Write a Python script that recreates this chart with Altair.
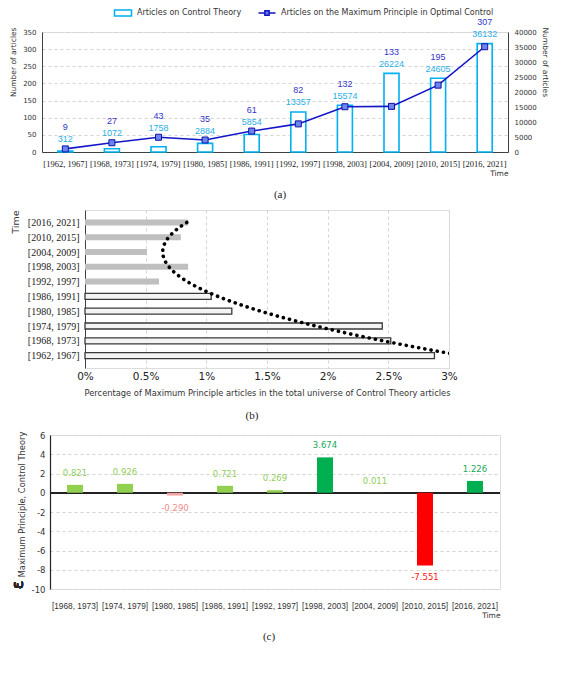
import json
import altair as alt
import pandas as pd

periods = ['[1962, 1967]', '[1968, 1973]', '[1974, 1979]', '[1980, 1985]', '[1986, 1991]',
           '[1992, 1997]', '[1998, 2003]', '[2004, 2009]', '[2010, 2015]', '[2016, 2021]']
mp_articles = [9, 27, 43, 35, 61, 82, 132, 133, 195, 307]
ct_articles = [312, 1072, 1758, 2884, 5854, 13357, 15574, 26224, 24605, 36132]
mp_share_pct = [2.88, 2.52, 2.45, 1.21, 1.04, 0.61, 0.85, 0.51, 0.79, 0.85]
periods_c = ['[1968, 1973]', '[1974, 1979]', '[1980, 1985]', '[1986, 1991]', '[1992, 1997]',
             '[1998, 2003]', '[2004, 2009]', '[2010, 2015]', '[2016, 2021]']
elasticity = [0.821, 0.926, -0.290, 0.721, 0.269, 3.674, 0.011, -7.551, 1.226]

CT_NAME = 'Articles on Control Theory'
MP_NAME = 'Articles on the Maximum Principle in Optimal Control'

SANS = 'DejaVu Sans'
SERIF = 'Liberation Serif'
LSANS = 'Liberation Sans'
AXC = '#404040'

df_a = pd.DataFrame({'period': periods, 'mp': mp_articles, 'ct': ct_articles,
                     'ct_name': CT_NAME, 'mp_name': MP_NAME})
df_b = pd.DataFrame({'period': periods, 'idx': list(range(len(periods))), 'pct': mp_share_pct})
df_c = pd.DataFrame({'period': periods_c, 'e': elasticity})


def caption(txt, off, dx):
    return alt.TitleParams(txt, orient='bottom', font=SERIF, fontSize=11, frame='group',
                           anchor='middle', fontWeight='normal', color='#222', offset=off, dx=dx)


# ---------------- panel (a) ----------------
xa = alt.X('period:N', sort=periods, title='Time',
           axis=alt.Axis(labelAngle=0, labelFont=SERIF, labelFontSize=8.5, labelColor='#222',
                         domainColor=AXC, ticks=False, labelPadding=7, labelOverlap=False,
                         titleAnchor='end', titleFont=SANS, titleFontSize=7.5,
                         titleFontWeight='normal', titleColor='#333', titlePadding=2),
           scale=alt.Scale(paddingInner=0.1, paddingOuter=0.05))

base_a = alt.Chart(df_a)

bars_a = base_a.mark_bar(size=15, fill='white', strokeWidth=1.6).encode(
    x=xa,
    y=alt.Y('ct:Q', title='Number of articles',
            scale=alt.Scale(domain=[0, 40000], nice=False),
            axis=alt.Axis(orient='right', values=list(range(0, 40001, 5000)), format='d',
                          grid=False, ticks=False, domainColor=AXC, labelFont=SANS,
                          labelFontSize=7, labelColor='#333', labelOverlap=False,
                          titleFont=SANS, titleFontSize=7.5, titleFontWeight='normal',
                          titleColor='#333', titleAngle=90, titleAlign='left', titleY=-5,
                          labelPadding=6, titlePadding=4)),
    stroke=alt.Stroke('ct_name:N', scale=alt.Scale(domain=[CT_NAME], range=['#00b0f0']),
                      legend=alt.Legend(title=None, orient='none', legendX=110, legendY=-24,
                                        symbolType='M-2.2,-0.8H2.2V0.8H-2.2Z', symbolSize=60,
                                        symbolFillColor='white', symbolStrokeWidth=1.5,
                                        labelLimit=400, labelOffset=9,
                                        labelFont=SANS, labelFontSize=8, labelColor='#333')),
)

axis_mp = alt.Axis(orient='left', values=list(range(0, 351, 50)), grid=True,
                   gridDash=[3, 3], gridColor='#d4d4d4', ticks=False, domainColor=AXC,
                   labelFont=SANS, labelFontSize=7, labelColor='#333', labelOverlap=False,
                   titleFont=SANS, titleFontSize=7.5, titleFontWeight='normal',
                   titleColor='#333', titleAngle=-90, titleAlign='right', titleY=-5,
                   labelPadding=6, titlePadding=5)
ya = alt.Y('mp:Q', title='Number of articles', scale=alt.Scale(domain=[0, 350], nice=False),
           axis=axis_mp)

line_a = base_a.mark_line(strokeWidth=1.6).encode(
    x=xa, y=ya,
    color=alt.Color('mp_name:N', scale=alt.Scale(domain=[MP_NAME], range=['#1515c8']),
                    legend=alt.Legend(title=None, orient='none', legendX=254, legendY=-24,
                                      symbolType='M-2.2,0H-0.55M0.55,0H2.2M-0.55,-0.55H0.55V0.55H-0.55Z',
                                      symbolSize=60, symbolStrokeWidth=1.5,
                                      symbolFillColor='#5f7fe8', labelLimit=400, labelOffset=9,
                                      labelFont=SANS, labelFontSize=8, labelColor='#333')),
)
pts_a = base_a.mark_point(shape='square', size=36, filled=True, fill='#6b86ec',
                          stroke='#1010a8', strokeWidth=1, opacity=1).encode(x=xa, y=ya)

top_calc = base_a.transform_calculate(top='max(datum.mp, datum.ct * 350 / 40000)')
ytop = alt.Y('top:Q', scale=alt.Scale(domain=[0, 350], nice=False), axis=None)
ct_text = top_calc.mark_text(font=LSANS, fontSize=9, color='#2aaee6', dy=-9.5).encode(
    x=xa, y=ytop, text=alt.Text('ct:Q', format='d'))
mp_text = top_calc.mark_text(font=LSANS, fontSize=9, color='#3535c8', dy=-21.5).encode(
    x=xa, y=ytop, text=alt.Text('mp:Q', format='d'))

panel_a = alt.layer(bars_a, alt.layer(line_a, pts_a), ct_text, mp_text).resolve_scale(
    y='independent').properties(width=466, height=120, title=caption('(a)', 12, 5))

# ---------------- panel (b) ----------------
label_expr = json.dumps(periods) + '[datum.value]'
xb = alt.X('pct:Q', title='Percentage of Maximum Principle articles in the total universe of Control Theory articles',
           scale=alt.Scale(domain=[0, 3], nice=False, zero=True),
           axis=alt.Axis(values=[0, 0.5, 1, 1.5, 2, 2.5, 3], labelExpr="datum.value + '%'",
                         grid=True, gridDash=[3, 3], gridColor='#d4d4d4', domain=False,
                         ticks=False, labelFont=SANS, labelFontSize=10.5, labelColor='#222',
                         labelPadding=3, labelOverlap=False, labelFlush=False,
                         titleFont=SANS, titleFontSize=8.3,
                         titleFontWeight='normal', titleColor='#333', titlePadding=7))
yb = alt.Y('idx:Q', title='Time', scale=alt.Scale(domain=[-0.5, 9.5], nice=False, zero=False),
           axis=alt.Axis(values=list(range(len(periods))), labelExpr=label_expr, grid=False,
                         ticks=False, domainColor=AXC, labelFont=SERIF, labelFontSize=10,
                         labelColor='#222', labelPadding=6, labelOverlap=False,
                         titleFont=SANS, titleFontSize=9.5,
                         titleFontWeight='normal', titleColor='#333', titleAnchor='end',
                         titlePadding=7))

bars_b = alt.Chart(df_b).mark_bar(orient='horizontal', size=6, strokeWidth=1.3).encode(
    x=xb, y=yb,
    fill=alt.when(alt.datum.idx < 5).then(alt.value('#f4f4f4')).otherwise(alt.value('#bfbfbf')),
    stroke=alt.when(alt.datum.idx < 5).then(alt.value('#3a3a3a')).otherwise(alt.value('transparent')),
)
trend_b = alt.Chart(df_b).transform_regression(
    'idx', 'pct', method='poly', order=2).mark_line(
    color='black', strokeWidth=3.6, strokeCap='round', strokeDash=[0.1, 6.2], clip=True).encode(
    x=xb, y=yb, order='idx:Q')

panel_b = alt.layer(bars_b, trend_b).properties(width=364, height=158,
                                                title=caption('(b)', 13, -15))

# ---------------- panel (c) ----------------
xc = alt.X('period:N', sort=periods_c, title='Time',
           axis=alt.Axis(labelAngle=0, labelFont=LSANS, labelFontSize=8.3, labelColor='#333',
                         domain=False, ticks=False, labelPadding=12, labelOverlap=False,
                         titleAnchor='end', titleFont=SANS, titleFontSize=7.5,
                         titleFontWeight='normal', titleColor='#333', titlePadding=2),
           scale=alt.Scale(paddingInner=0.1, paddingOuter=0.05))
axis_c = alt.Axis(values=list(range(-10, 7, 2)), labelExpr="'' + datum.value",
                  grid=True, gridDash=[3, 3], gridColor='#d4d4d4', ticks=False,
                  domainColor='#222', domainWidth=1.2, labelFont=SANS, labelFontSize=8.5,
                  labelColor='#333', labelPadding=5, labelOverlap=False,
                  titleFont=SANS, titleFontSize=8.3, titleY=69,
                  titleFontWeight='normal', titleColor='#333', titlePadding=5)
scale_c = alt.Scale(domain=[-10, 6], nice=False)
yc = alt.Y('e:Q', title='Maximum Principle, Control Theory', scale=scale_c, axis=axis_c)

col_c = (alt.when(alt.datum.e >= 1).then(alt.value('#00b050'))
         .when(alt.datum.e >= 0).then(alt.value('#92d050'))
         .when(alt.datum.e > -1).then(alt.value('#f4a3a3'))
         .otherwise(alt.value('#ff0000')))
txtcol_c = (alt.when(alt.datum.e >= 1).then(alt.value('#16a85a'))
            .when(alt.datum.e >= 0).then(alt.value('#92cc5a'))
            .when(alt.datum.e > -1).then(alt.value('#f08c8c'))
            .otherwise(alt.value('#ff1010')))
base_c = alt.Chart(df_c)
bars_c = base_c.mark_bar(size=16).encode(x=xc, y=yc, color=col_c)
zero_c = base_c.mark_rule(color='#222', strokeWidth=1.3).encode(
    y=alt.YDatum(0, type='quantitative', scale=scale_c, axis=axis_c,
                 title='Maximum Principle, Control Theory'))
lab_c = base_c.transform_calculate(lab="replace(format(datum.e, '.3f'), '\u2212', '-')")
pos_txt = lab_c.transform_filter('datum.e >= 0').mark_text(
    font=SANS, fontSize=8.5, dy=-12).encode(x=xc, y=yc, text='lab:N', color=txtcol_c)
neg_txt = lab_c.transform_filter('datum.e < 0').mark_text(
    font=SANS, fontSize=8.5, dy=12).encode(x=xc, y=yc, text='lab:N', color=txtcol_c)
eps = base_c.mark_text(text='\u03b5', font=SANS, fontSize=16, angle=270, baseline='middle',
                       color='#222').encode(x=alt.value(-32), y=alt.value(150))

panel_c = alt.layer(zero_c, bars_c, pos_txt, neg_txt, eps).properties(
    width=450, height=154, title=caption('(c)', 12, -6))


def spacer():
    return alt.Chart(pd.DataFrame({'s': [0]})).mark_point(
        size=0, opacity=0, strokeWidth=0).properties(width=1, height=1)


rows = [alt.hconcat(spacer(), p, spacing=0) for p in (panel_a, panel_b, panel_c)]
chart = alt.vconcat(*rows, spacing=8).properties(padding=0).configure_view(
    stroke=None).configure(background='white')

chart.save('out.html', embed_options={'renderer': 'svg', 'actions': False})
